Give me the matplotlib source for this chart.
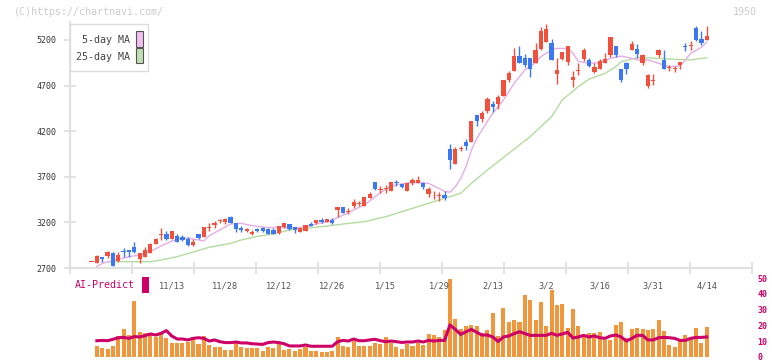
import matplotlib
matplotlib.use("Agg")
import matplotlib.pyplot as plt
import numpy as np
from matplotlib.patches import Rectangle

FONT = "DejaVu Sans Mono"
UP = "#f0503c"
DOWN = "#3c78f0"
VOL_COLOR = "#f0963c"
AI_COLOR = "#cc0066"

# daily prices, one entry per trading day
opens = [2762, 2758, 2817, 2835, 2861, 2780, 2886, 2897, 2930, 2795,
         2824, 2868, 2966, 3058, 3073, 3018, 3047, 3036, 3014, 2952,
         3069, 3040, 3142, 3168, 3215, 3208, 3262, 3190, 3142, 3104,
         3078, 3131, 3138, 3127, 3113, 3080, 3146, 3182, 3146, 3098,
         3109, 3182, 3190, 3226, 3204, 3222, 3336, 3369, 3310, 3380,
         3405, 3383, 3471, 3643, 3559, 3562, 3548, 3636, 3621, 3540,
         3636, 3636, 3628, 3515, 3506, 3490, 3504, 4001, 3840, 4008,
         4081, 4081, 4377, 4333, 4421, 4497, 4494, 4589, 4760, 4863,
         5023, 5001, 5001, 4950, 5103, 5177, 5166, 4826, 4987, 4958,
         4764, 4859, 4994, 4980, 4848, 4885, 4950, 5038, 5133, 4881,
         4943, 5089, 5096, 4950, 4691, 4753, 5038, 4980, 4888, 4877,
         4921, 5130, 5129, 5330, 5206, 5199]
highs = [2762, 2842, 2817, 2886, 2872, 2872, 2915, 2897, 2985, 2864,
         2933, 2970, 3032, 3138, 3105, 3105, 3073, 3065, 3036, 3022,
         3069, 3146, 3190, 3212, 3241, 3252, 3270, 3197, 3160, 3140,
         3117, 3142, 3146, 3138, 3142, 3164, 3197, 3186, 3146, 3138,
         3175, 3204, 3230, 3248, 3241, 3248, 3369, 3369, 3361, 3453,
         3434, 3478, 3533, 3643, 3599, 3607, 3643, 3668, 3625, 3632,
         3687, 3709, 3643, 3592, 3544, 3533, 3540, 4063, 4030, 4034,
         4114, 4315, 4377, 4425, 4570, 4534, 4592, 4760, 4859, 5110,
         5132, 5045, 5005, 5162, 5344, 5373, 5210, 4998, 5067, 5133,
         4855, 4943, 5111, 5001, 4950, 4994, 5052, 5235, 5133, 4881,
         4958, 5184, 5155, 5045, 4830, 4823, 5103, 5089, 4928, 4914,
         4958, 5170, 5184, 5352, 5293, 5352]
lows = [2762, 2758, 2769, 2814, 2722, 2762, 2824, 2824, 2861, 2758,
        2817, 2865, 2963, 3007, 3007, 3018, 2988, 3000, 2945, 2941,
        3018, 3040, 3109, 3138, 3190, 3186, 3190, 3091, 3098, 3091,
        3062, 3091, 3098, 3073, 3073, 3076, 3142, 3117, 3087, 3091,
        3106, 3160, 3186, 3197, 3200, 3186, 3263, 3306, 3288, 3361,
        3380, 3380, 3464, 3555, 3526, 3522, 3548, 3599, 3580, 3540,
        3614, 3628, 3570, 3482, 3460, 3430, 3450, 3782, 3840, 3979,
        3990, 4081, 4256, 4304, 4403, 4410, 4443, 4585, 4742, 4863,
        4950, 4903, 4790, 4950, 5089, 5177, 4976, 4713, 4980, 4929,
        4684, 4812, 4972, 4907, 4834, 4877, 4943, 5016, 5016, 4735,
        4822, 5089, 4998, 4929, 4669, 4706, 5016, 4885, 4863, 4848,
        4881, 5082, 5089, 5184, 5147, 5199]
closes = [2762, 2832, 2799, 2872, 2722, 2842, 2872, 2872, 2875, 2864,
          2897, 2963, 3018, 3065, 3018, 3105, 2988, 3007, 2952, 2985,
          3029, 3146, 3150, 3197, 3222, 3237, 3197, 3124, 3117, 3122,
          3097, 3104, 3102, 3076, 3076, 3160, 3193, 3127, 3117, 3138,
          3168, 3164, 3226, 3204, 3233, 3197, 3369, 3306, 3318, 3423,
          3413, 3478, 3511, 3566, 3567, 3570, 3643, 3628, 3584, 3632,
          3665, 3665, 3592, 3570, 3514, 3498, 3470, 3884, 4001, 4016,
          4037, 4315, 4315, 4396, 4552, 4468, 4574, 4760, 4841, 5023,
          4950, 4929, 4885, 5089, 5293, 5315, 4976, 4870, 5067, 5133,
          4793, 4867, 5089, 4914, 4907, 4965, 4994, 5233, 5031, 4757,
          4881, 5155, 5045, 5031, 4815, 4761, 5089, 4885, 4896, 4885,
          4958, 5122, 5137, 5199, 5162, 5243]

# lower panel
volume = [np.nan, 7.2, 5.9, 5.1, 7.0, 13.3, 17.9, 13.9, 35.4, 15.8,
          15.4, 13.9, 12.9, 14.6, 12.2, 9.1, 9.1, 9.1, 9.7, 11.2,
          8.2, 13.3, 7.6, 6.5, 6.1, 4.4, 4.4, 8.6, 6.5, 5.9,
          5.9, 5.5, 4.0, 6.5, 5.9, 8.2, 4.4, 5.3, 4.0, 5.3,
          6.5, 4.0, 3.8, 3.2, 3.2, 4.0, 12.7, 7.2, 6.5, 10.1,
          7.2, 7.2, 7.2, 9.1, 8.4, 12.7, 9.1, 6.5, 5.3, 8.2,
          7.2, 8.9, 7.6, 14.6, 13.9, 12.7, 17.1, 49.4, 24.3, 17.7,
          19.6, 20.3, 19.6, 15.2, 17.1, 27.8, 13.3, 31.0, 22.2, 23.4,
          22.2, 39.2, 36.1, 23.4, 34.8, 19.6, 42.4, 32.9, 33.5, 18.4,
          30.4, 19.6, 13.3, 15.2, 15.2, 15.8, 10.8, 10.8, 20.3, 22.2,
          12.0, 17.7, 18.4, 17.7, 17.1, 17.7, 23.4, 16.5, 7.6, 6.3,
          10.8, 13.9, 12.7, 18.4, 8.9, 19.0]
ai_predict = [np.nan, 10.3, 10.5, 10.3, 11.2, 12.2, 12.4, 11.8, 12.9, 12.7,
              13.5, 14.6, 13.9, 15.0, 16.7, 13.3, 11.4, 11.4, 10.8, 11.8,
              12.2, 11.8, 10.1, 10.8, 9.7, 9.1, 9.1, 9.5, 8.9, 8.9,
              8.4, 8.2, 8.0, 9.1, 9.5, 9.1, 8.4, 7.0, 7.0, 7.0,
              7.6, 6.8, 6.8, 6.8, 6.8, 6.8, 9.7, 10.5, 10.1, 11.4,
              10.3, 10.3, 10.8, 11.2, 10.3, 9.7, 10.1, 9.7, 9.2, 9.5,
              9.5, 10.1, 9.5, 10.5, 10.1, 10.5, 10.5, 20.3, 17.5, 14.3,
              16.0, 17.5, 15.6, 13.9, 13.9, 12.7, 9.8, 12.7, 13.3, 14.8,
              16.0, 14.8, 13.7, 13.7, 13.7, 13.7, 15.0, 13.7, 14.6, 15.6,
              12.0, 12.7, 13.7, 12.7, 13.3, 12.2, 11.8, 13.3, 13.9, 12.7,
              10.1, 11.8, 13.7, 13.7, 10.8, 10.8, 12.2, 12.4, 12.2, 11.8,
              10.5, 10.5, 11.8, 12.4, 12.4, 12.7]

# moving averages (day index, price)
ma5_day = [1, 2, 4, 7, 9, 11, 13, 15, 17, 18, 21, 22, 24, 26, 28, 30, 32, 34,
           35, 37, 40, 42, 44, 45, 47, 49, 51, 53, 55, 57, 59, 61, 63, 64,
           66, 67, 68, 69, 70, 71, 72, 73, 75, 77, 79, 81, 83, 84, 86, 87,
           89, 90, 91, 93, 95, 97, 99, 101, 102, 104, 106, 108, 110, 111,
           112, 114, 115]
ma5_val = [2714, 2751, 2780, 2824, 2842, 2879, 2941, 2996, 3025, 3029, 2996,
           3054, 3117, 3182, 3190, 3164, 3148, 3142, 3146, 3142, 3146, 3182,
           3204, 3226, 3278, 3336, 3391, 3482, 3563, 3613, 3632, 3636, 3628,
           3599, 3541, 3530, 3590, 3680, 3810, 3990, 4120, 4213, 4396, 4542,
           4724, 4870, 4950, 5016, 5089, 5108, 5104, 5053, 4965, 4943, 4950,
           4998, 5023, 4998, 4980, 4980, 4943, 4907, 4914, 4980, 5053, 5118,
           5177]
ma25_day = [3, 11, 13, 16, 19, 22, 26, 28, 31, 34, 37, 40, 44, 47, 51, 55, 59,
            62, 66, 67, 69, 71, 74, 78, 82, 86, 88, 91, 93, 96, 98, 99, 102,
            106, 109, 112, 114, 115]
ma25_val = [2769, 2769, 2787, 2824, 2875, 2927, 2970, 3007, 3047, 3073, 3117,
            3135, 3160, 3182, 3208, 3262, 3336, 3391, 3464, 3482, 3519, 3628,
            3774, 3957, 4140, 4359, 4542, 4688, 4770, 4833, 4907, 4961, 5005,
            4998, 4987, 4980, 4998, 5001]

date_labels = ["11/13", "11/28", "12/12", "12/26", "1/15", "1/29",
               "2/13", "3/2", "3/16", "3/31", "4/14"]
date_label_days = [15, 25, 35, 45, 55, 65, 75, 85, 95, 105, 115]
price_ticks = [2700, 3200, 3700, 4200, 4700, 5200]
volume_ticks = [0, 10, 20, 30, 40, 50]

W, H = 772, 361


def fx(px):
    return px / W


def fy(py):
    return 1 - py / H


days = np.arange(len(closes))
o = np.array(opens, dtype=float)
c = np.array(closes, dtype=float)
colors = [UP if cc >= oo else DOWN for oo, cc in zip(o, c)]
body_lo = np.minimum(o, c)
body_h = np.maximum(np.abs(c - o), 10)

fig = plt.figure(figsize=(W / 100, H / 100), dpi=100)
xlim = (-4.02, 123.46)

# volume / AI-Predict panel (added first so the price axis labels sit on top)
ax2 = fig.add_axes([fx(70), fy(357), fx(682), (357 - 278) / H])
ax2.patch.set_visible(False)
ax2.set_xlim(xlim)
ax2.set_ylim(0, 50)
ax2.bar(days, volume, width=0.75, color=VOL_COLOR, zorder=1)
ax2.plot(days, ai_predict, color=AI_COLOR, lw=2.2, zorder=2)
for side in ax2.spines.values():
    side.set_visible(False)
ax2.set_xticks([])
ax2.yaxis.tick_right()
ax2.set_yticks(volume_ticks)
ax2.set_yticklabels([str(t) for t in volume_ticks], family=FONT, fontsize=6,
                    color=AI_COLOR, fontweight="bold")
ax2.tick_params(axis="y", length=0, pad=4)

# price panel
ax = fig.add_axes([fx(70), fy(268), fx(682), (268 - 22) / H])
ax.patch.set_visible(False)
ax.set_xlim(xlim)
ax.set_ylim(2700, 5396)
ax.plot(ma25_day, ma25_val, color="#b4dca0", lw=1, zorder=1)
ax.plot(ma5_day, ma5_val, color="#e4aee4", lw=1, zorder=1)
ax.vlines(days, lows, highs, colors=colors, lw=1, zorder=2)
ax.bar(days, body_h, bottom=body_lo, width=0.8, color=colors, zorder=3)

for side in ["top", "right"]:
    ax.spines[side].set_visible(False)
for side in ["left", "bottom"]:
    ax.spines[side].set_color("#e0e0e0")
    ax.spines[side].set_linewidth(1.5)

ax.set_yticks(price_ticks)
ax.set_yticklabels([str(t) for t in price_ticks], family=FONT, fontsize=6, color="#333333")
ax.tick_params(axis="y", direction="inout", length=8, width=1.2, color="#dddddd", pad=6)

ax.set_xticks(np.linspace(xlim[0], xlim[1], 12), minor=True)
ax.set_xticks(date_label_days)
ax.set_xticklabels(date_labels, family=FONT, fontsize=6.2, color="#555555")
ax.tick_params(axis="x", which="major", length=0, pad=10)
ax.tick_params(axis="x", which="minor", direction="inout", length=8, width=1.2, color="#dddddd")

# legend box
fig.patches.append(Rectangle((fx(70), fy(71)), fx(78), 47 / H, transform=fig.transFigure,
                             facecolor="white", edgecolor="#dddddd", lw=1, zorder=5))
fig.patches.append(Rectangle((fx(136), fy(46.5)), fx(6.5), 15.5 / H, transform=fig.transFigure,
                             facecolor="#f0c0f0", edgecolor="#555555", lw=0.8, zorder=6))
fig.patches.append(Rectangle((fx(136), fy(63)), fx(6.5), 15 / H, transform=fig.transFigure,
                             facecolor="#c0e0b0", edgecolor="#555555", lw=0.8, zorder=6))
fig.text(fx(130), fy(40), "5-day MA", family=FONT, fontsize=7.2, color="#444444",
         ha="right", va="center", zorder=7)
fig.text(fx(130), fy(56.5), "25-day MA", family=FONT, fontsize=7.2, color="#444444",
         ha="right", va="center", zorder=7)

fig.text(fx(14), fy(12), "(C)https://chartnavi.com/", family=FONT, fontsize=7.2,
         color="#cccccc", va="center")
fig.text(fx(757), fy(12), "1950", family=FONT, fontsize=7.2, color="#cccccc",
         ha="right", va="center")

fig.text(fx(75), fy(285), "AI-Predict", family=FONT, fontsize=7.2, color=AI_COLOR, va="center")
fig.patches.append(Rectangle((fx(142), fy(293)), fx(6.5), 16 / H, transform=fig.transFigure,
                             facecolor=AI_COLOR, edgecolor="none"))

fig.savefig("out.png", dpi=100)
